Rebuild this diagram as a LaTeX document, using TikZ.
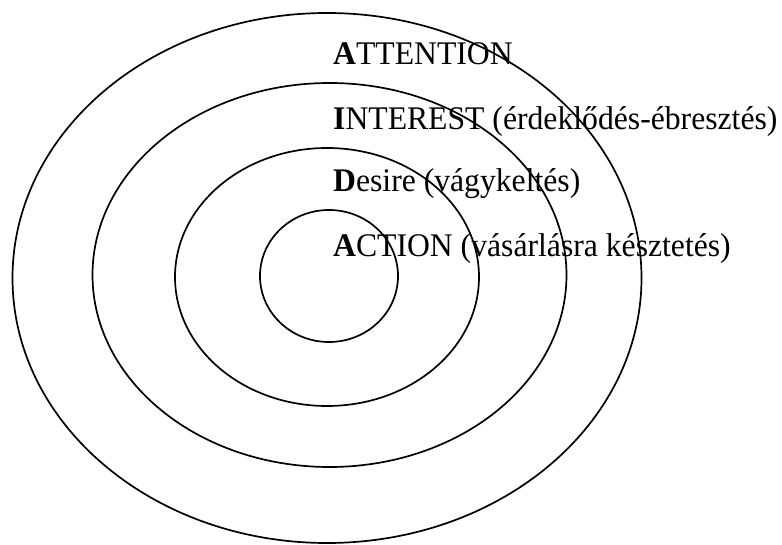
\documentclass[tikz,border=0pt]{standalone}
\usepackage{fontspec}
\setmainfont{Liberation Serif}
\begin{document}
\begin{tikzpicture}[x=1pt,y=-1pt,
  ring/.style={draw=black,line width=1.7pt},
  lbl/.style={anchor=base west,inner sep=0pt,font=\fontsize{33}{38}\selectfont,xscale=0.96}]
\useasboundingbox (0,0) rectangle (782,545);
\draw[ring] (327,278) ellipse [x radius=314.5,y radius=265];
\draw[ring] (329.5,275) ellipse [x radius=237,y radius=192];
\draw[ring] (327,277) ellipse [x radius=152,y radius=129];
\draw[ring] (329,276) ellipse [x radius=69,y radius=66];
\node[lbl] (attention) at (333,65) {\textbf{A}TTENTION};
\node[lbl] (interest) at (333,130) {\textbf{I}NTEREST (érdeklődés-ébresztés)};
\node[lbl] (desire) at (333,192) {\textbf{D}esire (vágykeltés)};
\node[lbl] (action) at (333,257) {\textbf{A}CTION (vásárlásra késztetés)};
\end{tikzpicture}
\end{document}
